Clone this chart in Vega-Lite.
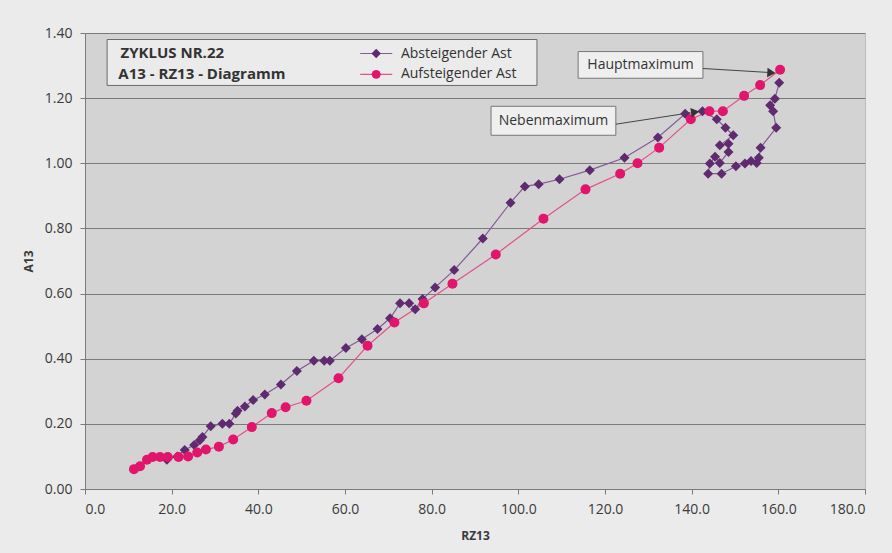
{
  "$schema": "https://vega.github.io/schema/vega-lite/v6.json",
  "width": 780,
  "height": 456,
  "autosize": {"type": "none"},
  "padding": {"left": 85, "top": 33, "right": 27, "bottom": 64},
  "background": "#ebebeb",
  "config": {
    "view": {"fill": "#d3d3d3", "stroke": "#bdbdbd"},
    "font": "Open Sans",
    "axis": {
      "domainColor": "#7a7a7a",
      "tickColor": "#7a7a7a",
      "tickSize": 5,
      "labelFont": "Open Sans",
      "labelFontSize": 14,
      "labelColor": "#3a3a3a",
      "labelPadding": 8,
      "titleFont": "Open Sans",
      "titleFontSize": 12,
      "titleFontWeight": "bold",
      "titleColor": "#3a3a3a"
    }
  },
  "datasets": {
    "cycle": [
      {"series": "Absteigender Ast", "i": 1, "RZ13": 160.2, "A13": 1.247},
      {"series": "Absteigender Ast", "i": 2, "RZ13": 159.2, "A13": 1.198},
      {"series": "Absteigender Ast", "i": 3, "RZ13": 158.1, "A13": 1.178},
      {"series": "Absteigender Ast", "i": 4, "RZ13": 158.8, "A13": 1.160},
      {"series": "Absteigender Ast", "i": 5, "RZ13": 159.5, "A13": 1.109},
      {"series": "Absteigender Ast", "i": 6, "RZ13": 155.9, "A13": 1.048},
      {"series": "Absteigender Ast", "i": 7, "RZ13": 155.5, "A13": 1.017},
      {"series": "Absteigender Ast", "i": 8, "RZ13": 155.0, "A13": 1.001},
      {"series": "Absteigender Ast", "i": 9, "RZ13": 153.7, "A13": 1.007},
      {"series": "Absteigender Ast", "i": 10, "RZ13": 152.3, "A13": 0.999},
      {"series": "Absteigender Ast", "i": 11, "RZ13": 150.2, "A13": 0.991},
      {"series": "Absteigender Ast", "i": 12, "RZ13": 146.9, "A13": 0.968},
      {"series": "Absteigender Ast", "i": 13, "RZ13": 143.8, "A13": 0.968},
      {"series": "Absteigender Ast", "i": 14, "RZ13": 144.2, "A13": 0.999},
      {"series": "Absteigender Ast", "i": 15, "RZ13": 145.4, "A13": 1.020},
      {"series": "Absteigender Ast", "i": 16, "RZ13": 146.5, "A13": 1.001},
      {"series": "Absteigender Ast", "i": 17, "RZ13": 148.5, "A13": 1.035},
      {"series": "Absteigender Ast", "i": 18, "RZ13": 148.5, "A13": 1.060},
      {"series": "Absteigender Ast", "i": 19, "RZ13": 146.5, "A13": 1.055},
      {"series": "Absteigender Ast", "i": 20, "RZ13": 149.6, "A13": 1.086},
      {"series": "Absteigender Ast", "i": 21, "RZ13": 147.8, "A13": 1.109},
      {"series": "Absteigender Ast", "i": 22, "RZ13": 145.8, "A13": 1.135},
      {"series": "Absteigender Ast", "i": 23, "RZ13": 142.5, "A13": 1.160},
      {"series": "Absteigender Ast", "i": 24, "RZ13": 138.5, "A13": 1.152},
      {"series": "Absteigender Ast", "i": 25, "RZ13": 132.2, "A13": 1.079},
      {"series": "Absteigender Ast", "i": 26, "RZ13": 124.5, "A13": 1.017},
      {"series": "Absteigender Ast", "i": 27, "RZ13": 116.5, "A13": 0.979},
      {"series": "Absteigender Ast", "i": 28, "RZ13": 109.5, "A13": 0.951},
      {"series": "Absteigender Ast", "i": 29, "RZ13": 104.7, "A13": 0.936},
      {"series": "Absteigender Ast", "i": 30, "RZ13": 101.5, "A13": 0.929},
      {"series": "Absteigender Ast", "i": 31, "RZ13": 98.2, "A13": 0.879},
      {"series": "Absteigender Ast", "i": 32, "RZ13": 91.8, "A13": 0.769},
      {"series": "Absteigender Ast", "i": 33, "RZ13": 85.2, "A13": 0.672},
      {"series": "Absteigender Ast", "i": 34, "RZ13": 80.8, "A13": 0.619},
      {"series": "Absteigender Ast", "i": 35, "RZ13": 77.9, "A13": 0.583},
      {"series": "Absteigender Ast", "i": 36, "RZ13": 76.2, "A13": 0.552},
      {"series": "Absteigender Ast", "i": 37, "RZ13": 74.8, "A13": 0.570},
      {"series": "Absteigender Ast", "i": 38, "RZ13": 72.7, "A13": 0.570},
      {"series": "Absteigender Ast", "i": 39, "RZ13": 70.4, "A13": 0.524},
      {"series": "Absteigender Ast", "i": 40, "RZ13": 67.5, "A13": 0.491},
      {"series": "Absteigender Ast", "i": 41, "RZ13": 63.9, "A13": 0.460},
      {"series": "Absteigender Ast", "i": 42, "RZ13": 60.2, "A13": 0.433},
      {"series": "Absteigender Ast", "i": 43, "RZ13": 56.5, "A13": 0.394},
      {"series": "Absteigender Ast", "i": 44, "RZ13": 55.2, "A13": 0.394},
      {"series": "Absteigender Ast", "i": 45, "RZ13": 52.8, "A13": 0.394},
      {"series": "Absteigender Ast", "i": 46, "RZ13": 48.9, "A13": 0.362},
      {"series": "Absteigender Ast", "i": 47, "RZ13": 45.2, "A13": 0.321},
      {"series": "Absteigender Ast", "i": 48, "RZ13": 41.5, "A13": 0.290},
      {"series": "Absteigender Ast", "i": 49, "RZ13": 38.8, "A13": 0.273},
      {"series": "Absteigender Ast", "i": 50, "RZ13": 36.9, "A13": 0.253},
      {"series": "Absteigender Ast", "i": 51, "RZ13": 35.2, "A13": 0.240},
      {"series": "Absteigender Ast", "i": 52, "RZ13": 34.8, "A13": 0.232},
      {"series": "Absteigender Ast", "i": 53, "RZ13": 33.3, "A13": 0.200},
      {"series": "Absteigender Ast", "i": 54, "RZ13": 31.7, "A13": 0.200},
      {"series": "Absteigender Ast", "i": 55, "RZ13": 29.0, "A13": 0.193},
      {"series": "Absteigender Ast", "i": 56, "RZ13": 27.1, "A13": 0.160},
      {"series": "Absteigender Ast", "i": 57, "RZ13": 26.5, "A13": 0.150},
      {"series": "Absteigender Ast", "i": 58, "RZ13": 25.2, "A13": 0.135},
      {"series": "Absteigender Ast", "i": 59, "RZ13": 23.0, "A13": 0.120},
      {"series": "Absteigender Ast", "i": 60, "RZ13": 21.3, "A13": 0.100},
      {"series": "Absteigender Ast", "i": 61, "RZ13": 18.9, "A13": 0.090},
      {"series": "Aufsteigender Ast", "i": 1, "RZ13": 11.3, "A13": 0.061},
      {"series": "Aufsteigender Ast", "i": 2, "RZ13": 12.7, "A13": 0.070},
      {"series": "Aufsteigender Ast", "i": 3, "RZ13": 14.3, "A13": 0.090},
      {"series": "Aufsteigender Ast", "i": 4, "RZ13": 15.6, "A13": 0.098},
      {"series": "Aufsteigender Ast", "i": 5, "RZ13": 17.3, "A13": 0.098},
      {"series": "Aufsteigender Ast", "i": 6, "RZ13": 19.1, "A13": 0.098},
      {"series": "Aufsteigender Ast", "i": 7, "RZ13": 21.6, "A13": 0.098},
      {"series": "Aufsteigender Ast", "i": 8, "RZ13": 23.8, "A13": 0.100},
      {"series": "Aufsteigender Ast", "i": 9, "RZ13": 25.9, "A13": 0.112},
      {"series": "Aufsteigender Ast", "i": 10, "RZ13": 27.9, "A13": 0.121},
      {"series": "Aufsteigender Ast", "i": 11, "RZ13": 30.9, "A13": 0.130},
      {"series": "Aufsteigender Ast", "i": 12, "RZ13": 34.2, "A13": 0.152},
      {"series": "Aufsteigender Ast", "i": 13, "RZ13": 38.5, "A13": 0.190},
      {"series": "Aufsteigender Ast", "i": 14, "RZ13": 43.1, "A13": 0.233},
      {"series": "Aufsteigender Ast", "i": 15, "RZ13": 46.3, "A13": 0.251},
      {"series": "Aufsteigender Ast", "i": 16, "RZ13": 51.1, "A13": 0.271},
      {"series": "Aufsteigender Ast", "i": 17, "RZ13": 58.5, "A13": 0.340},
      {"series": "Aufsteigender Ast", "i": 18, "RZ13": 65.2, "A13": 0.440},
      {"series": "Aufsteigender Ast", "i": 19, "RZ13": 71.4, "A13": 0.511},
      {"series": "Aufsteigender Ast", "i": 20, "RZ13": 78.2, "A13": 0.570},
      {"series": "Aufsteigender Ast", "i": 21, "RZ13": 84.8, "A13": 0.630},
      {"series": "Aufsteigender Ast", "i": 22, "RZ13": 94.8, "A13": 0.720},
      {"series": "Aufsteigender Ast", "i": 23, "RZ13": 105.8, "A13": 0.830},
      {"series": "Aufsteigender Ast", "i": 24, "RZ13": 115.5, "A13": 0.920},
      {"series": "Aufsteigender Ast", "i": 25, "RZ13": 123.5, "A13": 0.968},
      {"series": "Aufsteigender Ast", "i": 26, "RZ13": 127.5, "A13": 1.000},
      {"series": "Aufsteigender Ast", "i": 27, "RZ13": 132.5, "A13": 1.048},
      {"series": "Aufsteigender Ast", "i": 28, "RZ13": 139.8, "A13": 1.135},
      {"series": "Aufsteigender Ast", "i": 29, "RZ13": 144.1, "A13": 1.160},
      {"series": "Aufsteigender Ast", "i": 30, "RZ13": 147.2, "A13": 1.160},
      {"series": "Aufsteigender Ast", "i": 31, "RZ13": 152.1, "A13": 1.207},
      {"series": "Aufsteigender Ast", "i": 32, "RZ13": 155.8, "A13": 1.240},
      {"series": "Aufsteigender Ast", "i": 33, "RZ13": 160.4, "A13": 1.287}
    ]
  },
  "layer": [
    {
      "data": {"values": [{}]},
      "mark": {"type": "rect", "fill": "#ebebeb", "stroke": "#6b6b6b", "strokeWidth": 1},
      "encoding": {
        "x": {"datum": 5.1, "type": "quantitative", "title": "RZ13"},
        "x2": {"datum": 104.3},
        "y": {"datum": 1.380, "type": "quantitative", "title": "A13"},
        "y2": {"datum": 1.239}
      }
    },
    {
      "data": {"name": "cycle"},
      "mark": {"type": "line", "strokeWidth": 1.2},
      "encoding": {
        "x": {
          "field": "RZ13", "type": "quantitative", "title": "RZ13",
          "scale": {"domain": [0, 180], "nice": false, "zero": false},
          "axis": {"values": [0, 20, 40, 60, 80, 100, 120, 140, 160, 180], "format": ".1f", "grid": false, "titlePadding": 14}
        },
        "y": {
          "field": "A13", "type": "quantitative", "title": "A13",
          "scale": {"domain": [0, 1.4], "nice": false, "zero": false},
          "axis": {"values": [0, 0.2, 0.4, 0.6, 0.8, 1.0, 1.2, 1.4], "format": ".2f", "grid": true, "gridColor": "#7a7a7a", "gridWidth": 1, "titlePadding": 9}
        },
        "detail": {"field": "series"},
        "order": {"field": "i", "type": "quantitative"},
        "stroke": {
          "field": "series", "type": "nominal",
          "scale": {"domain": ["Absteigender Ast", "Aufsteigender Ast"], "range": ["#87589a", "#e6508a"]},
          "legend": null
        }
      }
    },
    {
      "data": {"name": "cycle"},
      "mark": {"type": "point", "filled": true, "opacity": 1, "size": 100},
      "encoding": {
        "x": {"field": "RZ13", "type": "quantitative", "title": "RZ13"},
        "y": {"field": "A13", "type": "quantitative", "title": "A13"},
        "fill": {
          "field": "series", "type": "nominal",
          "scale": {"domain": ["Absteigender Ast", "Aufsteigender Ast"], "range": ["#5f2a70", "#e0156b"]},
          "legend": null
        },
        "shape": {
          "field": "series", "type": "nominal",
          "scale": {"domain": ["Absteigender Ast", "Aufsteigender Ast"], "range": ["diamond", "circle"]},
          "legend": null
        }
      }
    },
    {
      "data": {"values": [{}]},
      "mark": {"type": "rule", "color": "#87589a", "strokeWidth": 1.2},
      "encoding": {
        "x": {"datum": 63.5, "type": "quantitative"},
        "x2": {"datum": 70.9},
        "y": {"datum": 1.337, "type": "quantitative"}
      }
    },
    {
      "data": {"values": [{}]},
      "mark": {"type": "point", "shape": "diamond", "filled": true, "color": "#5f2a70", "opacity": 1, "size": 90},
      "encoding": {
        "x": {"datum": 67.2, "type": "quantitative"},
        "y": {"datum": 1.337, "type": "quantitative"}
      }
    },
    {
      "data": {"values": [{}]},
      "mark": {"type": "text", "text": "Absteigender Ast", "align": "left", "baseline": "middle", "font": "Open Sans", "fontSize": 14, "color": "#333333"},
      "encoding": {
        "x": {"datum": 72.9, "type": "quantitative"},
        "y": {"datum": 1.337, "type": "quantitative"}
      }
    },
    {
      "data": {"values": [{}]},
      "mark": {"type": "rule", "color": "#e6508a", "strokeWidth": 1.2},
      "encoding": {
        "x": {"datum": 63.5, "type": "quantitative"},
        "x2": {"datum": 70.9},
        "y": {"datum": 1.273, "type": "quantitative"}
      }
    },
    {
      "data": {"values": [{}]},
      "mark": {"type": "point", "shape": "circle", "filled": true, "color": "#e0156b", "opacity": 1, "size": 80},
      "encoding": {
        "x": {"datum": 67.2, "type": "quantitative"},
        "y": {"datum": 1.273, "type": "quantitative"}
      }
    },
    {
      "data": {"values": [{}]},
      "mark": {"type": "text", "text": "Aufsteigender Ast", "align": "left", "baseline": "middle", "font": "Open Sans", "fontSize": 14, "color": "#333333"},
      "encoding": {
        "x": {"datum": 72.9, "type": "quantitative"},
        "y": {"datum": 1.273, "type": "quantitative"}
      }
    },
    {
      "data": {"values": [{}]},
      "mark": {"type": "text", "text": "ZYKLUS NR.22", "align": "left", "baseline": "alphabetic", "font": "Open Sans", "fontSize": 15, "fontWeight": "bold", "color": "#333333"},
      "encoding": {
        "x": {"datum": 8.2, "type": "quantitative"},
        "y": {"datum": 1.322, "type": "quantitative"}
      }
    },
    {
      "data": {"values": [{}]},
      "mark": {"type": "text", "text": "A13 - RZ13 - Diagramm", "align": "left", "baseline": "alphabetic", "font": "Open Sans", "fontSize": 15, "fontWeight": "bold", "color": "#333333"},
      "encoding": {
        "x": {"datum": 7.7, "type": "quantitative"},
        "y": {"datum": 1.258, "type": "quantitative"}
      }
    },
    {
      "data": {"values": [{}]},
      "mark": {"type": "rect", "fill": "#efefef", "stroke": "#777777", "strokeWidth": 1},
      "encoding": {
        "x": {"datum": 113.8, "type": "quantitative"},
        "x2": {"datum": 142.6},
        "y": {"datum": 1.343, "type": "quantitative"},
        "y2": {"datum": 1.261}
      }
    },
    {
      "data": {"values": [{}]},
      "mark": {"type": "text", "text": "Hauptmaximum", "align": "center", "baseline": "middle", "font": "Open Sans", "fontSize": 14, "color": "#333333"},
      "encoding": {
        "x": {"datum": 128.2, "type": "quantitative"},
        "y": {"datum": 1.302, "type": "quantitative"}
      }
    },
    {
      "data": {"values": [{}]},
      "mark": {"type": "rect", "fill": "#efefef", "stroke": "#777777", "strokeWidth": 1},
      "encoding": {
        "x": {"datum": 93.7, "type": "quantitative"},
        "x2": {"datum": 122.5},
        "y": {"datum": 1.175, "type": "quantitative"},
        "y2": {"datum": 1.086}
      }
    },
    {
      "data": {"values": [{}]},
      "mark": {"type": "text", "text": "Nebenmaximum", "align": "center", "baseline": "middle", "font": "Open Sans", "fontSize": 14, "color": "#333333"},
      "encoding": {
        "x": {"datum": 108.1, "type": "quantitative"},
        "y": {"datum": 1.131, "type": "quantitative"}
      }
    },
    {
      "data": {"values": [{}]},
      "mark": {"type": "rule", "color": "#444444", "strokeWidth": 1},
      "encoding": {
        "x": {"datum": 142.6, "type": "quantitative"},
        "x2": {"datum": 157.6},
        "y": {"datum": 1.291, "type": "quantitative"},
        "y2": {"datum": 1.279}
      }
    },
    {
      "data": {"values": [{}]},
      "mark": {"type": "point", "shape": "triangle-right", "filled": true, "color": "#333333", "opacity": 1, "size": 90, "angle": 3},
      "encoding": {
        "x": {"datum": 158.4, "type": "quantitative"},
        "y": {"datum": 1.278, "type": "quantitative"}
      }
    },
    {
      "data": {"values": [{}]},
      "mark": {"type": "rule", "color": "#444444", "strokeWidth": 1},
      "encoding": {
        "x": {"datum": 122.5, "type": "quantitative"},
        "x2": {"datum": 139.6},
        "y": {"datum": 1.120, "type": "quantitative"},
        "y2": {"datum": 1.155}
      }
    },
    {
      "data": {"values": [{}]},
      "mark": {"type": "point", "shape": "triangle-right", "filled": true, "color": "#333333", "opacity": 1, "size": 90, "angle": -9},
      "encoding": {
        "x": {"datum": 140.8, "type": "quantitative"},
        "y": {"datum": 1.157, "type": "quantitative"}
      }
    }
  ]
}
